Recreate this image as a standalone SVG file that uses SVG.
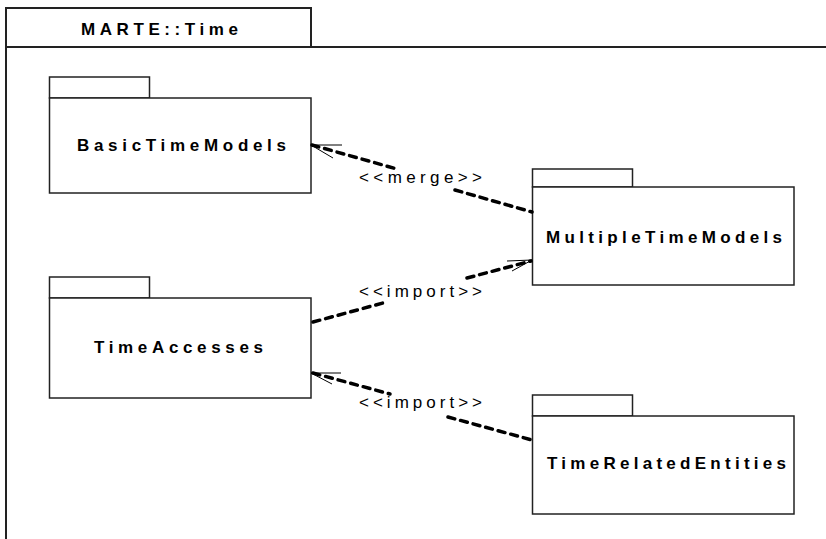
<svg xmlns="http://www.w3.org/2000/svg" width="826" height="539" viewBox="0 0 826 539">
<style>
.frame{fill:none;stroke:#222;stroke-width:2}
.pkg{fill:#fff;stroke:#222;stroke-width:1.5}
.name{font-family:"Liberation Sans",Arial,sans-serif;font-weight:bold;font-size:17px;fill:#000}
.lbl{font-family:"Liberation Sans",Arial,sans-serif;font-size:17px;fill:#000}
.dep{fill:none;stroke:#000;stroke-width:3.5;stroke-dasharray:7 6;stroke-linecap:round}
.head{fill:none;stroke:#000;stroke-width:1}
</style>
<rect x="0" y="0" width="826" height="539" fill="#fff"/>
<g id="frame">
<rect class="frame" x="6" y="8" width="305" height="39"/>
<path class="frame" d="M6 47 H826 M6 8 V539"/>
<text class="name" x="81" y="35" textLength="157" lengthAdjust="spacing">MARTE::Time</text>
</g>
<g id="BasicTimeModels">
<rect class="pkg" x="49.5" y="77" width="100" height="21"/>
<rect class="pkg" x="49.5" y="98" width="261.5" height="95"/>
<text class="name" x="77" y="151" textLength="209" lengthAdjust="spacing">BasicTimeModels</text>
</g>
<g id="TimeAccesses">
<rect class="pkg" x="49.5" y="277" width="100" height="21"/>
<rect class="pkg" x="49.5" y="298" width="261.5" height="100"/>
<text class="name" x="94" y="353" textLength="169" lengthAdjust="spacing">TimeAccesses</text>
</g>
<g id="MultipleTimeModels">
<rect class="pkg" x="532.5" y="169" width="100" height="18"/>
<rect class="pkg" x="532.5" y="187" width="261.5" height="98"/>
<text class="name" x="546" y="243" textLength="236" lengthAdjust="spacing">MultipleTimeModels</text>
</g>
<g id="TimeRelatedEntities">
<rect class="pkg" x="532.5" y="395" width="100" height="21"/>
<rect class="pkg" x="532.5" y="416" width="261.5" height="98"/>
<text class="name" x="547" y="469" textLength="239" lengthAdjust="spacing">TimeRelatedEntities</text>
</g>
<g id="connectors">
<g id="merge">
<path class="dep" d="M312 145 L397 169"/>
<path class="dep" d="M455 190 L532 212"/>
<path class="head" d="M342 145 L311 145 L333 158"/>
<text class="lbl" x="359" y="183" textLength="123" lengthAdjust="spacing">&lt;&lt;merge&gt;&gt;</text>
</g>
<g id="import1">
<path class="dep" d="M313 322 L383 303"/>
<path class="dep" d="M467 278 L531 261"/>
<path class="head" d="M507 261 L532 260 L512 271"/>
<text class="lbl" x="359" y="297" textLength="123" lengthAdjust="spacing">&lt;&lt;import&gt;&gt;</text>
</g>
<g id="import2">
<path class="dep" d="M313 373 L390 394"/>
<path class="dep" d="M448 417 L532 440"/>
<path class="head" d="M341 373 L311 373 L332 384"/>
<text class="lbl" x="359" y="408" textLength="123" lengthAdjust="spacing">&lt;&lt;import&gt;&gt;</text>
</g>
</g>
</svg>
